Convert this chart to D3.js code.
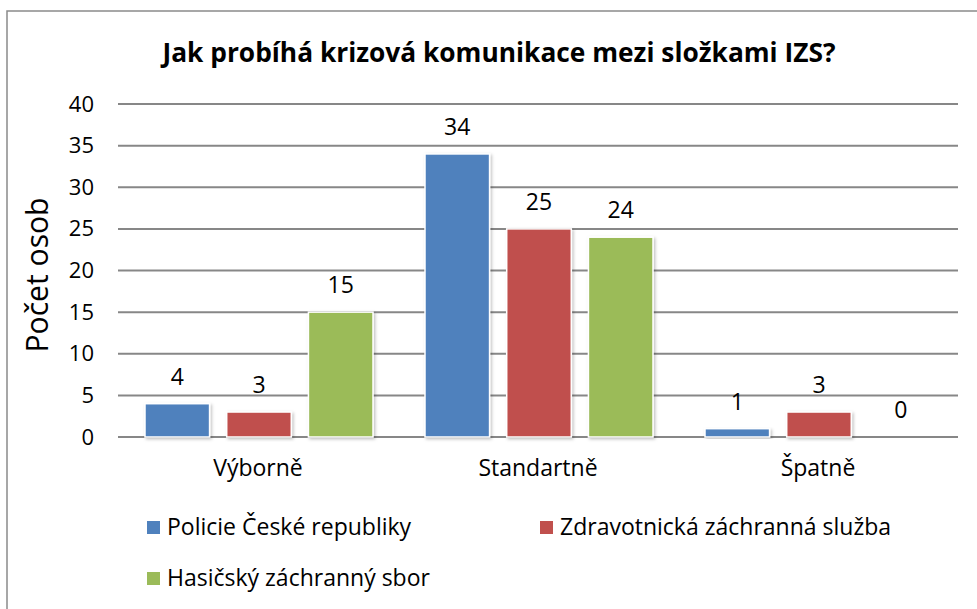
<!doctype html>
<html>
  <head>
    <meta charset="UTF-8">
    <title>Krizová komunikace IZS</title>
    <script src="https://d3js.org/d3.v7.min.js"></script>
    <style>
      body { margin: 0; background: #fff; }
      svg text { font-family: "Open Sans", sans-serif; fill: #000; }
      .grid line { stroke: #878787; stroke-width: 2px; }
    </style>
  </head>
  <body>
    <svg id="chart" width="977" height="609"></svg>
    <script>
      // data
      const categories = ["Výborně", "Standartně", "Špatně"];
      const seriesNames = ["Policie České republiky", "Zdravotnická záchranná služba", "Hasičský záchranný sbor"];
      const policie = [4, 34, 1];
      const zdravotnicka = [3, 25, 3];
      const hasici = [15, 24, 0];
      const yTicks = [0, 5, 10, 15, 20, 25, 30, 35, 40];
      const colors = ["#4F81BD", "#C0504D", "#9BBB59"];

      const seriesValues = [policie, zdravotnicka, hasici];
      const font = "'Open Sans', sans-serif";

      const svg = d3.select("#chart");

      // outer chart frame (runs off the right and bottom edge)
      svg.append("rect")
        .attr("x", 7).attr("y", 11)
        .attr("width", 1000).attr("height", 640)
        .attr("fill", "none")
        .attr("stroke", "#8a8a8a")
        .attr("stroke-width", 1.5);

      const defs = svg.append("defs");
      const shadow = defs.append("filter").attr("id", "shadow")
        .attr("x", "-20%").attr("y", "-20%").attr("width", "140%").attr("height", "140%");
      shadow.append("feDropShadow")
        .attr("dx", 1.5).attr("dy", 1.5).attr("stdDeviation", 1.5)
        .attr("flood-color", "#000").attr("flood-opacity", 0.25);

      const x0 = d3.scaleBand().domain(categories).range([118, 958]);
      const x1 = d3.scaleBand().domain(seriesNames).range([27, 255]).paddingInner(0.21);
      const y = d3.scaleLinear().domain([0, 40]).range([437, 104]);

      // title
      svg.append("text")
        .attr("x", 499).attr("y", 62)
        .attr("text-anchor", "middle")
        .attr("font-size", 26)
        .attr("font-weight", "bold")
        .attr("textLength", 673)
        .attr("lengthAdjust", "spacingAndGlyphs")
        .text("Jak probíhá krizová komunikace mezi složkami IZS?");

      // gridlines
      svg.append("g").attr("class", "grid")
        .selectAll("line")
        .data(yTicks)
        .join("line")
          .attr("x1", 118).attr("x2", 958)
          .attr("y1", d => y(d)).attr("y2", d => y(d));

      // y axis labels
      const yAxis = d3.axisLeft(y).tickValues(yTicks).tickSize(0).tickPadding(0);
      const ya = svg.append("g")
        .attr("transform", "translate(94,0)")
        .call(yAxis);
      ya.select(".domain").remove();
      ya.selectAll("text")
        .attr("font-size", 22)
        .attr("font-family", font)
        .attr("fill", "#000");

      svg.append("text")
        .attr("transform", "translate(48,275) rotate(-90)")
        .attr("text-anchor", "middle")
        .attr("font-size", 31)
        .attr("textLength", 155)
        .attr("lengthAdjust", "spacingAndGlyphs")
        .text("Počet osob");

      // x axis labels
      const xAxis = d3.axisBottom(x0).tickSize(0).tickPadding(0);
      const xa = svg.append("g")
        .attr("transform", "translate(0,460)")
        .call(xAxis);
      xa.select(".domain").remove();
      xa.selectAll("text")
        .attr("font-size", 23)
        .attr("font-family", font)
        .attr("fill", "#000");

      // bars
      const groups = svg.append("g").selectAll("g")
        .data(categories)
        .join("g")
          .attr("transform", d => `translate(${x0(d)},0)`);

      groups.selectAll("rect")
        .data((c, i) => seriesNames.map((s, k) => ({ s, k, v: seriesValues[k][i] })))
        .join("rect")
          .filter(d => d.v > 0)
          .attr("x", d => x1(d.s))
          .attr("y", d => y(d.v))
          .attr("width", x1.bandwidth())
          .attr("height", d => y(0) - y(d.v))
          .attr("fill", d => colors[d.k])
          .attr("stroke", "#fff")
          .attr("stroke-width", 1.5)
          .attr("filter", "url(#shadow)");

      groups.selectAll("text.val")
        .data((c, i) => seriesNames.map((s, k) => ({ s, k, v: seriesValues[k][i] })))
        .join("text")
          .attr("class", "val")
          .attr("x", d => x1(d.s) + x1.bandwidth() / 2)
          .attr("y", d => y(d.v) - 19)
          .attr("text-anchor", "middle")
          .attr("font-size", 23)
          .text(d => d.v);

      // legend
      const legendPos = [[147, 527], [540, 527], [147, 578]];
      const legend = svg.append("g").selectAll("g")
        .data(seriesNames)
        .join("g")
          .attr("transform", (d, i) => `translate(${legendPos[i][0]},${legendPos[i][1]})`);
      legend.append("rect")
        .attr("x", 0).attr("y", -6)
        .attr("width", 13).attr("height", 13)
        .attr("fill", (d, i) => colors[i]);
      legend.append("text")
        .attr("x", 20).attr("y", 8)
        .attr("font-size", 23)
        .text(d => d);
    </script>
  </body>
</html>
